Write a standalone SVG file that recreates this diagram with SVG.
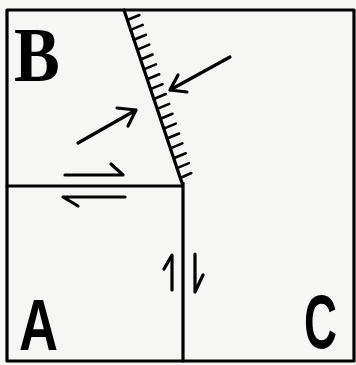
<svg xmlns="http://www.w3.org/2000/svg" width="356" height="365" viewBox="0 0 356 365">
<style>
.ln{fill:none;stroke:#000;stroke-width:3.2;stroke-linecap:round;stroke-linejoin:round}
.ar{fill:none;stroke:#000;stroke-width:3.2;stroke-linecap:round;stroke-linejoin:round}
.tk{fill:none;stroke:#000;stroke-width:2.6;stroke-linecap:round}
.lb{fill:#000;font-weight:bold}
</style>
<rect width="356" height="365" fill="#f6f6f4"/>
<g id="frame">
<rect class="ln" x="7" y="10" width="347" height="351"/>
<path class="ln" d="M7 186 H182 M183 183 V361 M124 10 L182 183"/>
<path class="tk" d="M127.4 20 l12 -5 M130.7 29.9 l12 -5 M134 39.8 l12 -5 M137.3 49.6 l12 -5 M140.6 59.5 l12 -5 M143.9 69.4 l12 -5 M147.2 79.3 l12 -5 M150.5 89.1 l12 -5 M153.8 99 l12 -5 M157.2 108.9 l12 -5 M160.5 118.8 l12 -5 M163.8 128.6 l12 -5 M167.1 138.5 l12 -5 M170.4 148.4 l12 -5 M173.7 158.3 l12 -5 M177 168.1 l12 -5 M180.3 178 l11 -5"/>
</g>
<g id="B"><text class="lb" transform="translate(14 81) scale(0.88 1)" font-family="Liberation Serif, serif" font-size="78">B</text></g>
<g id="A"><text class="lb" transform="translate(19 350) scale(0.75 1)" font-family="Liberation Sans, sans-serif" font-size="72">A</text></g>
<g id="C"><text class="lb" transform="translate(304 348) scale(0.6 1)" font-family="Liberation Sans, sans-serif" font-size="76">C</text></g>
<g id="connectors">
<path class="ar" d="M230 57 L170 90 M178 75 L170 90 L187 92"/>
<path class="ar" d="M78 143 L136 110 M117 108 L136 110 L128 126"/>
<path class="ar" d="M65 175 H123 L111 164"/>
<path class="ar" d="M125 197 H63 L78 206"/>
<path class="ar" d="M172 290 V255 L164 269"/>
<path class="ar" d="M195 254 V292 L203 275"/>
</g>
</svg>
